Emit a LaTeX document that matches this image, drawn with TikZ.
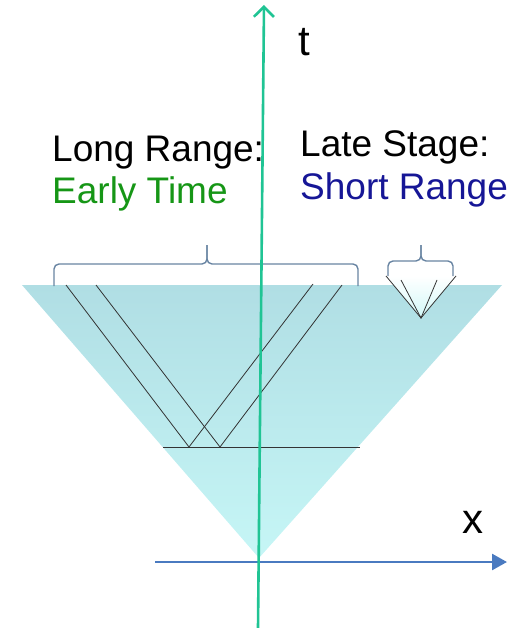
\documentclass[tikz,border=0pt]{standalone}
\usepackage{fontspec}
\setmainfont{Liberation Sans}
\usepackage{xcolor}
\usetikzlibrary{arrows.meta, positioning}

\definecolor{conetop}{RGB}{176,222,228}
\definecolor{conebot}{RGB}{198,246,246}
\definecolor{taxis}{RGB}{32,196,148}
\definecolor{xaxis}{RGB}{74,122,192}
\definecolor{bracecol}{RGB}{104,132,162}
\definecolor{earlygreen}{RGB}{22,150,22}
\definecolor{shortblue}{RGB}{22,22,150}

\begin{document}
\begin{tikzpicture}[x=1pt, y=-1pt,
    caption/.style={font=\fontsize{37}{42}\selectfont, inner sep=0pt, anchor=base west},
    axislabel/.style={font=\fontsize{42}{46}\selectfont, inner sep=0pt},
    ray/.style={draw=black!80, line width=0.8pt},
    bracket/.style={draw=bracecol, line width=1.4pt, rounded corners=5pt}]
        \useasboundingbox (0,0) rectangle (510,628);

        % light cone
        \coordinate (cl) at (22,285);
        \coordinate (cr) at (502,285);
        \coordinate (apex) at (259,558);
        \shade[top color=conetop, bottom color=conebot] (cl) -- (cr) -- (apex) -- cycle;

        % small cone (late stage)
        \coordinate (sl) at (386,276);
        \coordinate (sr) at (456,276);
        \coordinate (sa) at (421,318);
        \shade[top color=white, bottom color=conebot!80!white] (sl) -- (sr) -- (sa) -- cycle;
        \coordinate (sil) at (401,280);
        \coordinate (sir) at (437,280);
        \path[ray] (sl) -- (sa) -- (sr);
        \path[ray] (sil) -- (sa) -- (sir);

        % rays of the long range part
        \coordinate (a1) at (66,285);
        \coordinate (a2) at (96,285);
        \coordinate (b1) at (189,447);
        \coordinate (b2) at (220,447);
        \coordinate (c1) at (313,284);
        \coordinate (c2) at (342,285);
        \coordinate (hl) at (163,447);
        \coordinate (hr) at (360,447);
        \path[ray] (a1) -- (b1) -- (c1);
        \path[ray] (a2) -- (b2) -- (c2);
        \path[ray] (hl) -- (hr);

        % braces
        \coordinate (lbl) at (54,286);
        \coordinate (lbr) at (358,286);
        \coordinate (lbm) at (207,264);
        \coordinate (lbt) at (207,245);
        \path[bracket] (lbl) |- (lbm) -- (lbt);
        \path[bracket] (lbr) |- (lbm) -- (lbt);

        \coordinate (sbl) at (388,276);
        \coordinate (sbr) at (453,276);
        \coordinate (sbm) at (421,261);
        \coordinate (sbt) at (421,245);
        \path[bracket] (sbl) |- (sbm) -- (sbt);
        \path[bracket] (sbr) |- (sbm) -- (sbt);

        % axes
        \coordinate (t0) at (258,628);
        \coordinate (t1) at (264,5);
        \coordinate (x0) at (155,562);
        \coordinate (x1) at (507,562);
        \draw[xaxis, line width=2.6pt, -{Triangle[length=15pt, width=16pt]}] (x0) -- (x1);
        \draw[taxis, line width=2.6pt, -{Straight Barb[length=10pt, width=20pt]}] (t0) -- (t1);

        \node[axislabel] (tlab) at (304,42) {t};
        \node[axislabel] (xlab) at (473,522) {x};

        % captions
        \node[caption] (long) at (52,162) {Long Range:};
        \node[caption, text=earlygreen] (early) at (52,204) {Early Time};
        \node[caption] (late) at (300,157) {Late Stage:};
        \node[caption, text=shortblue] (short) at (300,200) {Short Range};
\end{tikzpicture}
\end{document}
